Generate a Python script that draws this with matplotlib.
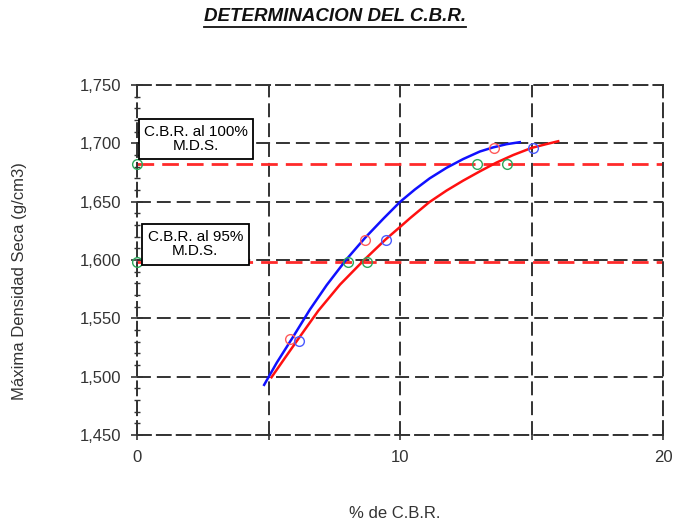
import matplotlib
matplotlib.use("Agg")
import matplotlib.pyplot as plt
from matplotlib.lines import Line2D
from matplotlib.ticker import MultipleLocator, FuncFormatter

plt.rcParams["font.family"] = ["Liberation Sans", "DejaVu Sans"]
plt.rcParams["lines.scale_dashes"] = False

# ensayos
cbr_a = [5.80, 8.66, 13.57]
dens_a = [1532, 1617, 1696]
cbr_b = [6.15, 9.46, 15.05]
dens_b = [1531, 1617, 1696]
cbr_c = [0, 0, 8.01, 8.72, 12.91, 14.06]
dens_c = [1682, 1598, 1598, 1598, 1682, 1682]

# curvas de ajuste
curva_azul_x = [4.82, 5.3, 5.89, 6.56, 7.2, 7.95, 8.66, 9.36, 10.0, 10.56, 11.12,
                11.76, 12.39, 13.03, 13.53, 14.05, 14.55]
curva_azul_y = [1493, 1512, 1533, 1557.5, 1578.5, 1600.5, 1619, 1635.5, 1650, 1660.5, 1670,
                1679, 1686.5, 1693, 1696.5, 1699.3, 1701]
curva_roja_x = [5.1, 5.6, 6.06, 6.88, 7.71, 8.6, 9.43, 10.0, 10.38, 11.1, 11.76,
                12.39, 13.03, 13.66, 14.3, 15.0, 15.57, 16.01]
curva_roja_y = [1499.5, 1515.7, 1530.5, 1556.5, 1579, 1599.5, 1617.4, 1628.5, 1636, 1649.5, 1659.5,
                1668, 1676, 1683.5, 1690, 1696.1, 1699.4, 1701.8]

mds_100 = 1682
mds_95 = 1598
x_ticks = [0, 5, 10, 15, 20]
x_labels = ["0", "", "10", "", "20"]

fig = plt.figure(figsize=(6.76, 5.28), dpi=100)
ax = fig.add_axes([0.2034, 0.1761, 0.7774, 0.6629])
ax.set_xlim(0, 20)
ax.set_ylim(1450, 1750)

grid_kw = dict(color="#333333", lw=1.4, dashes=(10, 4.3))
ax.grid(True, which="major", linestyle="--", **grid_kw)
for sp in ax.spines.values():
    sp.set_linestyle((0, (10, 4.3)))
    sp.set_color("#333333")
    sp.set_linewidth(1.4)

ax.set_xticks(x_ticks)
ax.set_xticklabels(x_labels)
ax.yaxis.set_major_locator(MultipleLocator(50))
ax.yaxis.set_minor_locator(MultipleLocator(10))
ax.yaxis.set_major_formatter(FuncFormatter(lambda v, p: f"{v:,.0f}"))
ax.tick_params(axis="y", which="major", direction="inout", length=8, width=1.2,
               pad=8, labelsize=12, colors="#333333", labelcolor="#333333")
ax.tick_params(axis="y", which="minor", direction="inout", length=5, width=1.0, colors="#333333")
ax.tick_params(axis="x", which="major", direction="inout", length=7, width=1.2,
               pad=7, labelsize=12, colors="#333333", labelcolor="#333333")

ax.axhline(mds_100, color="#ff2a2a", lw=2, linestyle="--", dashes=(12, 5.8), zorder=2)
ax.axhline(mds_95, color="#ff2a2a", lw=2, linestyle="--", dashes=(12, 5.8), zorder=2)

ax.plot(curva_azul_x, curva_azul_y, color="#1010ff", lw=1.8, zorder=3)
ax.plot(curva_roja_x, curva_roja_y, color="#ff1010", lw=1.8, zorder=3)

ax.plot(cbr_a, dens_a, "o", mfc="none", mec="#ff5a5a", ms=7, mew=1.0, zorder=4)
ax.plot(cbr_b, dens_b, "o", mfc="none", mec="#4a5aff", ms=7, mew=1.0, zorder=4)
ax.plot(cbr_c, dens_c, "o", mfc="none", mec="#2aa85a", ms=7, mew=1.0, zorder=5, clip_on=False)

box1 = dict(boxstyle="square,pad=0.35", fc="white", ec="black", lw=1.3)
box2 = dict(boxstyle="square,pad=0.4", fc="white", ec="black", lw=1.3)
ax.text(2.22, 1703.7, "C.B.R. al 100%\nM.D.S.", ha="center", va="center",
        multialignment="center", fontsize=11, linespacing=1.05, bbox=box1, zorder=6)
ax.text(2.2, 1613.3, "C.B.R. al 95%\nM.D.S.", ha="center", va="center",
        multialignment="center", fontsize=11, linespacing=1.0, bbox=box2, zorder=6)

ax.set_xlabel("% de C.B.R.", fontsize=12, color="#333333")
ax.set_ylabel("Máxima Densidad Seca (g/cm3)", fontsize=12, color="#333333")
ax.xaxis.label.set_va("center")
ax.yaxis.label.set_va("center")
ax.xaxis.set_label_coords(0.49, -0.223)
ax.yaxis.set_label_coords(-0.2236, 0.44)

title = fig.text(0.4956, 0.968, "DETERMINACION DEL C.B.R.", ha="center", va="center",
                 fontsize=13.5, fontweight="bold", fontstyle="italic", color="#111111")
fig.canvas.draw()
bb = title.get_window_extent()
y_line = bb.y0 - 1.5
fig.add_artist(Line2D([bb.x0 / fig.bbox.width, bb.x1 / fig.bbox.width],
                      [y_line / fig.bbox.height, y_line / fig.bbox.height],
                      transform=fig.transFigure, color="#111111", lw=1.3))

fig.savefig("out.png", dpi=100)
